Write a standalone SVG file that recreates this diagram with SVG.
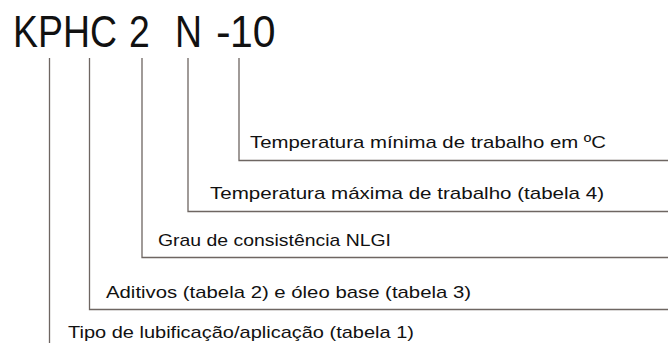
<svg xmlns="http://www.w3.org/2000/svg" width="668" height="343" viewBox="0 0 668 343">
<style>
.t{font-family:"Liberation Sans",Arial,sans-serif;fill:#111;}
.title{font-size:44px;}
.lbl{font-size:17px;}
.c{stroke:#6e6662;stroke-width:1.3;fill:none;}
</style>
<rect width="668" height="343" fill="#fff"/>
<g id="code">
<text class="t title" transform="translate(13 47) scale(0.85 1)" x="0" y="0">KPHC</text>
<text class="t title" transform="translate(129 47) scale(0.85 1)" x="0" y="0">2</text>
<text class="t title" transform="translate(175 47) scale(0.85 1)" x="0" y="0">N</text>
<text class="t title" transform="translate(216 47) scale(1 1)" x="0" y="0">-</text>
<text class="t title" transform="translate(230 47) scale(0.93 1)" x="0" y="0">10</text>
</g>
<g id="connectors">
<path class="c" d="M49.5 58V343"/>
<path class="c" d="M89.5 58V309.5H668"/>
<path class="c" d="M142 58V257.5H668"/>
<path class="c" d="M188 58V211.5H668"/>
<path class="c" d="M239 58V160.5H668"/>
</g>
<g id="min-temp"><text class="t lbl" x="250" y="148" textLength="356" lengthAdjust="spacingAndGlyphs">Temperatura mínima de trabalho em ºC</text></g>
<g id="max-temp"><text class="t lbl" x="210" y="199" textLength="394" lengthAdjust="spacingAndGlyphs">Temperatura máxima de trabalho (tabela 4)</text></g>
<g id="nlgi"><text class="t lbl" x="158" y="245.5" textLength="233" lengthAdjust="spacingAndGlyphs">Grau de consistência NLGI</text></g>
<g id="aditivos"><text class="t lbl" x="106" y="297.5" textLength="365" lengthAdjust="spacingAndGlyphs">Aditivos (tabela 2) e óleo base (tabela 3)</text></g>
<g id="tipo"><text class="t lbl" x="68" y="338" textLength="346" lengthAdjust="spacingAndGlyphs">Tipo de lubificação/aplicação (tabela 1)</text></g>
</svg>
